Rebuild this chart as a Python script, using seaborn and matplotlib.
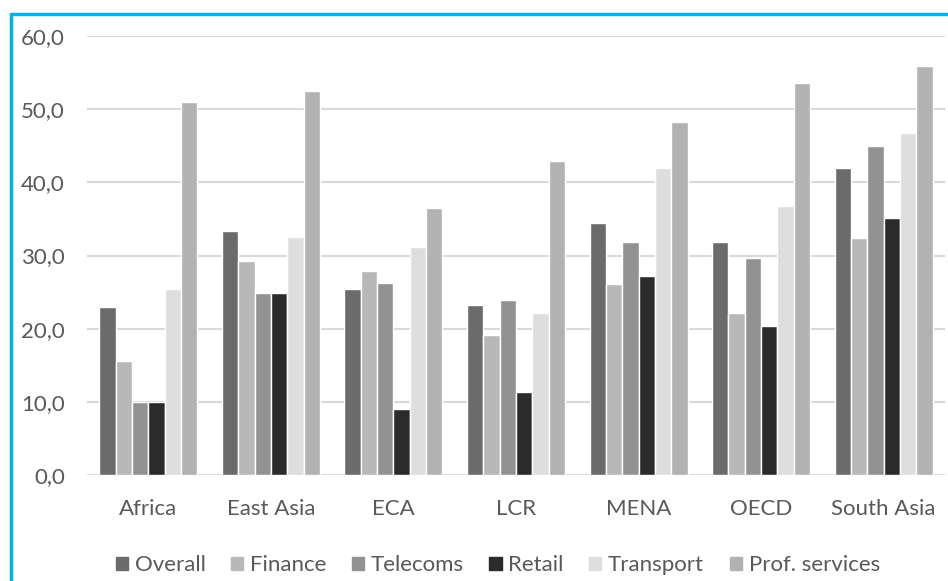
import numpy as np
import pandas as pd
import matplotlib
matplotlib.use("Agg")
import matplotlib.pyplot as plt
from matplotlib.lines import Line2D
from matplotlib.ticker import FuncFormatter
import seaborn as sns

regions = ["Africa", "East Asia", "ECA", "LCR", "MENA", "OECD", "South Asia"]
sectors = ["Overall", "Finance", "Telecoms", "Retail", "Transport", "Prof. services"]

overall = [23.0, 33.3, 25.4, 23.2, 34.5, 31.9, 42.0]
finance = [15.6, 29.3, 27.9, 19.1, 26.1, 22.1, 32.4]
telecoms = [10.0, 24.9, 26.2, 23.9, 31.9, 29.6, 45.0]
retail = [10.0, 24.9, 9.0, 11.3, 27.2, 20.3, 35.1]
transport = [25.4, 32.6, 31.2, 22.1, 42.0, 36.8, 46.8]
prof_services = [51.0, 52.5, 36.5, 42.9, 48.3, 53.6, 55.9]

colors = ["#6b6b6b", "#b8b8b8", "#929292", "#2b2b2b", "#dedede", "#b2b2b2"]

series = [overall, finance, telecoms, retail, transport, prof_services]
df = pd.DataFrame(
    [(r, s, v) for s, vals in zip(sectors, series) for r, v in zip(regions, vals)],
    columns=["region", "sector", "value"],
)

sns.set_style("white")
plt.rcParams["font.family"] = ["Lato", "DejaVu Sans"]

fig = plt.figure(figsize=(9.48, 5.81), dpi=100)
ax = fig.add_axes([0.0918, 0.1824, 0.905, 0.7556])

sns.barplot(
    data=df, x="region", y="value", hue="sector",
    order=regions, hue_order=sectors, palette=colors,
    width=0.8, edgecolor="white", linewidth=1, ax=ax, legend=False,
)

ax.set_ylim(0, 60)
ax.set_yticks(np.arange(0, 61, 10))
ax.yaxis.set_major_formatter(FuncFormatter(lambda v, _: f"{v:.1f}".replace(".", ",")))
ax.grid(axis="y", color="#d9d9d9", linewidth=1.5)
ax.set_axisbelow(True)
for side in ["top", "right", "left", "bottom"]:
    ax.spines[side].set_visible(False)
ax.tick_params(axis="both", length=0, labelsize=16, colors="#595959")
ax.tick_params(axis="y", pad=16)
ax.tick_params(axis="x", pad=17)
ax.set_xlabel("")
ax.set_ylabel("")

handles = [plt.Rectangle((0, 0), 1, 1, color=c) for c in colors]
fig.legend(
    handles, sectors, loc="center", bbox_to_anchor=(0.525, 0.027), ncol=6,
    frameon=False, fontsize=16, handlelength=0.55, handleheight=0.55,
    handletextpad=0.3, columnspacing=1.15, labelcolor="#595959",
)

# blue frame (left and top edges visible in the crop)
fig.add_artist(Line2D([11 / 948, 11 / 948], [0, 1 - 14 / 581], color="#00b0f0", linewidth=2.5))
fig.add_artist(Line2D([11 / 948, 1], [1 - 14 / 581, 1 - 14 / 581], color="#00b0f0", linewidth=2.5))

fig.savefig("out.png", dpi=100)
plt.close()
